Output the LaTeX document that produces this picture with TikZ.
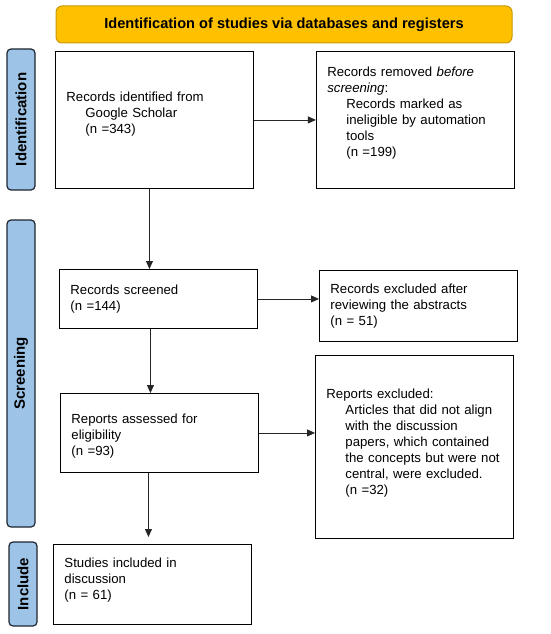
\documentclass[tikz,border=0pt]{standalone}
\usepackage{fontspec}
\setmainfont{Liberation Sans}
\usetikzlibrary{arrows.meta,positioning}
\definecolor{prgold}{HTML}{FFC000}
\definecolor{prgoldline}{HTML}{C99A00}
\definecolor{prblue}{HTML}{9DC3E6}
\definecolor{prink}{HTML}{1F2630}
\tikzset{
  box/.style={draw=black, line width=0.9pt, fill=white, align=left, inner xsep=11pt,
    text width=176pt, minimum width=198pt, anchor=north west,
    font=\fontsize{13.2}{16}\selectfont},
  phase/.style={draw=prink, fill=prblue, line width=1.2pt, rounded corners=4pt, rotate=90,
    minimum height=28pt, inner sep=0pt, font=\fontsize{15}{18}\selectfont\bfseries},
  banner/.style={draw=prgoldline, fill=prgold, line width=1pt, rounded corners=6pt,
    minimum width=456pt, minimum height=37pt, font=\fontsize{14.6}{18}\selectfont\bfseries},
  arr/.style={-{Triangle[length=8pt, width=7pt]}, line width=0.85pt, color=black!85},
}
\newcommand{\ind}{\hspace*{19pt}}
\begin{document}
\begin{tikzpicture}[x=1pt, y=-1pt]
    \useasboundingbox[fill=white] (0,0) rectangle (550,634);
    % header and phase bars
    \node[banner] (hd) at (284,24.5) {Identification of studies via databases and registers};
    \node[phase, minimum width=141pt] (pid) at (21,119.5) {Identification};
    \node[phase, minimum width=307pt] (psc) at (21,373.5) {Screening};
    \node[phase, minimum width=84pt] (pin) at (23,584) {Include};
    % identification
    \node[box, minimum height=137pt] (id) at (55,51) {Records identified from\\\ind Google Scholar\\\ind (n =343)\\[-2pt]\mbox{}};
    \node[box, minimum height=137pt, right=62pt of id] (rm) {Records removed \textit{before}\\\textit{screening}:\\\ind Records marked as\\\ind ineligible by automation\\\ind tools\\\ind (n =199)\\\mbox{}};
    % screening
    \node[box, minimum height=59pt] (scr) at (59,269) {Records screened\\(n =144)};
    \node[box, minimum height=71pt] (exa) at (319,270) {Records excluded after\\reviewing the abstracts\\(n = 51)};
    \node[box, minimum height=79pt] (rep) at (60,393) {\mbox{}\\[0pt]Reports assessed for\\eligibility\\(n =93)};
    \node[box, minimum height=183pt] (exr) at (315,355) {Reports excluded:\\\ind Articles that did not align\\\ind with the discussion\\\ind papers, which contained\\\ind the concepts but were not\\\ind central, were excluded.\\\ind (n =32)\\[-6pt]\mbox{}};
    % included
    \node[box, minimum height=80pt] (inc) at (53,544) {Studies included in\\discussion\\(n = 61)\\[-4pt]\mbox{}};
    % connectors
    \draw[arr] (id.east) -- (rm.west);
    \draw[arr] ([xshift=-5pt]id.south) -- ([xshift=-5pt]id.south |- scr.north);
    \draw[arr] (scr.east) -- (scr.east -| exa.west);
    \draw[arr] ([xshift=-8pt]scr.south) -- ([xshift=-8pt]scr.south |- rep.north);
    \draw[arr] (rep.east) -- (rep.east -| exr.west);
    \draw[arr, shorten >=7pt] ([xshift=-11pt]rep.south) -- ([xshift=-11pt]rep.south |- inc.north);
\end{tikzpicture}
\end{document}
